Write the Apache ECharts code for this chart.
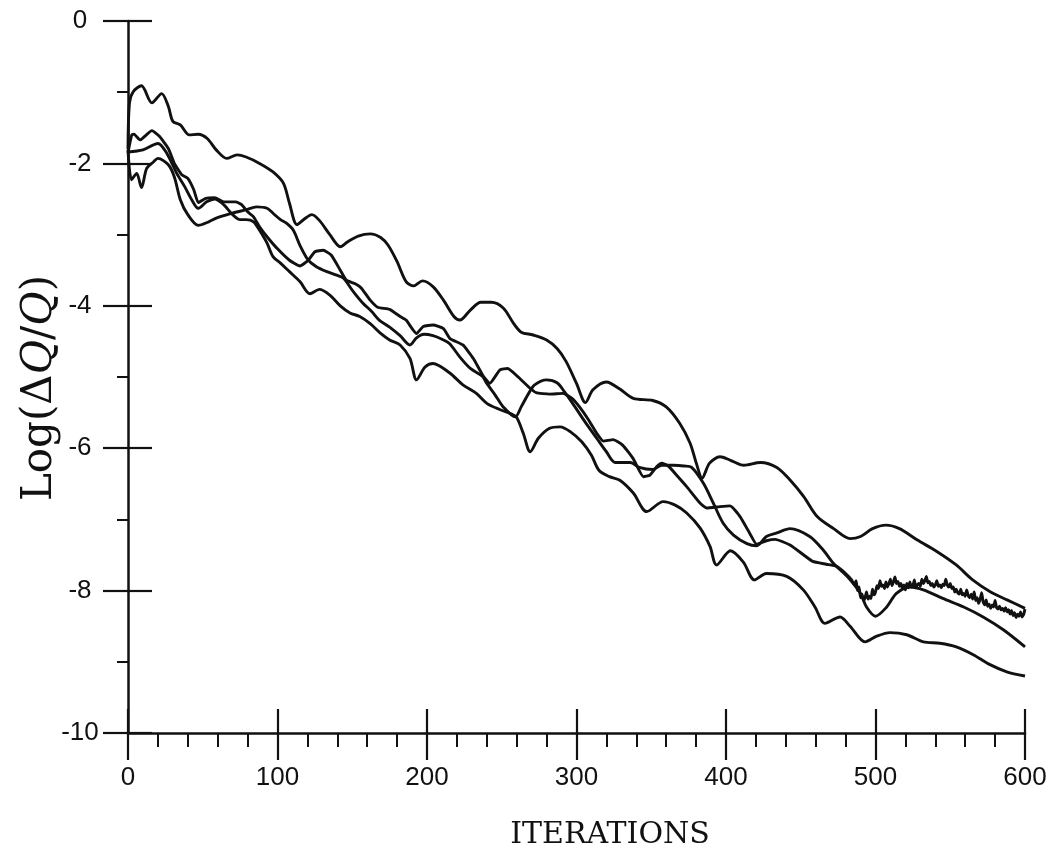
<!DOCTYPE html>
<html>
<head>
<meta charset="utf-8">
<title>Log(dQ/Q) vs iterations</title>
<script src="https://cdn.jsdelivr.net/npm/echarts@6/dist/echarts.min.js"></script>
<style>
  html, body { margin: 0; padding: 0; background: #fff; }
  #chart { width: 1056px; height: 858px; }
</style>
</head>
<body>
<div id="chart"></div>
<script>
// Axis ranges / ticks
const xTicks = [0, 100, 200, 300, 400, 500, 600];
const yTicks = [-10, -8, -6, -4, -2, 0];

// Four convergence histories, [iteration, log(dQ/Q)]
const curveA = [[0,-1.8],[1,-1.15],[3.6,-0.99],[9,-0.91],[16,-1.15],[22.5,-1.02],[27,-1.2],[30,-1.41],[35,-1.46],[41,-1.6],[47,-1.59],[53,-1.65],[59,-1.81],[66,-1.93],[73,-1.88],[79,-1.91],[88,-2.0],[97,-2.12],[104,-2.28],[108,-2.56],[113,-2.86],[118,-2.78],[123,-2.72],[128,-2.8],[135,-3.0],[142,-3.17],[147,-3.1],[154,-3.02],[162,-2.99],[169,-3.04],[174,-3.15],[180,-3.38],[186,-3.66],[191,-3.72],[197,-3.65],[204,-3.73],[211,-3.92],[218,-4.15],[222,-4.2],[229,-4.06],[236,-3.95],[243,-3.95],[251,-4.03],[258,-4.25],[263,-4.37],[271,-4.41],[280,-4.48],[287,-4.6],[293,-4.78],[300,-5.09],[306,-5.36],[311,-5.18],[320,-5.07],[329,-5.17],[338,-5.3],[351,-5.33],[360,-5.42],[369,-5.65],[376,-5.93],[380,-6.2],[384,-6.42],[389,-6.21],[396,-6.12],[403,-6.17],[412,-6.24],[423,-6.2],[434,-6.27],[443,-6.45],[452,-6.68],[461,-6.96],[472,-7.13],[483,-7.27],[490,-7.24],[498,-7.13],[507,-7.08],[516,-7.13],[528,-7.29],[541,-7.45],[554,-7.64],[565,-7.85],[577,-8.02],[588,-8.13],[600,-8.25]];

const curveBSmooth = [[0,-1.85],[2.5,-1.6],[4,-1.59],[8,-1.67],[16,-1.54],[21,-1.62],[27,-1.79],[31,-2.0],[36,-2.16],[40,-2.21],[44,-2.37],[47,-2.55],[52,-2.49],[58,-2.48],[64,-2.54],[72,-2.54],[76,-2.58],[80,-2.68],[84,-2.75],[88,-2.89],[93,-3.03],[100,-3.2],[108,-3.36],[115,-3.44],[120.6,-3.36],[125,-3.24],[130.6,-3.22],[136,-3.29],[142,-3.5],[146,-3.64],[152,-3.69],[156,-3.75],[162,-3.92],[167,-4.02],[175,-4.05],[182,-4.15],[186,-4.2],[193,-4.39],[197.5,-4.29],[204,-4.27],[211,-4.32],[215.4,-4.46],[224,-4.55],[231,-4.74],[237.7,-4.99],[242,-5.09],[248.8,-4.9],[254,-4.88],[261,-5.0],[268,-5.14],[273,-5.22],[282,-5.24],[291,-5.23],[297,-5.3],[302,-5.42],[308,-5.6],[313.5,-5.79],[318,-5.9],[324.6,-5.88],[331,-5.96],[338,-6.15],[344.7,-6.4],[349,-6.38],[353.6,-6.26],[357,-6.21],[361.4,-6.25],[367,-6.38],[373.7,-6.54],[382.6,-6.77],[387,-6.84],[396,-6.82],[402.7,-6.81],[409.4,-6.96],[416,-7.2],[420.5,-7.35],[427,-7.3],[433,-7.28],[442.8,-7.36],[452,-7.5],[458,-7.59],[467,-7.63],[474,-7.66],[480,-7.76],[484,-7.85]];

// the jagged tail of the same run, one value per iteration from 486
const curveBTailStart = 486;
const curveBTail = [-7.92,-7.86,-8.0,-7.95,-8.1,-8.05,-8.14,-8.1,-8.02,-8.12,-8.08,-8.11,-7.98,-8.06,-8.02,-7.93,-7.97,-7.86,-7.94,-7.92,-7.97,-7.88,-7.95,-7.9,-7.84,-7.93,-7.88,-7.81,-7.9,-7.87,-7.94,-7.9,-7.97,-7.92,-7.99,-7.9,-7.96,-7.88,-7.95,-7.93,-7.85,-7.96,-7.92,-7.9,-7.94,-7.84,-7.9,-7.86,-7.8,-7.89,-7.87,-7.93,-7.9,-7.95,-7.92,-7.86,-7.94,-7.92,-7.96,-7.91,-7.93,-7.84,-7.92,-7.95,-7.9,-7.97,-7.95,-8.02,-7.98,-8.03,-8.05,-7.98,-8.06,-8.04,-8.08,-7.99,-8.07,-8.1,-8.05,-8.12,-8.02,-8.14,-8.1,-8.18,-8.12,-8.03,-8.16,-8.2,-8.13,-8.22,-8.19,-8.25,-8.2,-8.23,-8.14,-8.24,-8.26,-8.22,-8.27,-8.25,-8.29,-8.24,-8.3,-8.27,-8.33,-8.28,-8.35,-8.31,-8.38,-8.33,-8.36,-8.3,-8.37,-8.34,-8.26];

const curveC = [[0,-1.81],[2.4,-2.23],[5.8,-2.14],[9,-2.34],[12.5,-2.07],[17,-1.98],[20,-1.93],[27,-2.02],[31,-2.19],[35,-2.51],[40,-2.72],[47,-2.87],[54,-2.82],[59,-2.77],[68,-2.71],[79,-2.65],[86,-2.61],[93,-2.63],[97,-2.7],[102,-2.79],[106,-2.84],[110.6,-2.94],[115,-3.15],[120.6,-3.36],[126,-3.45],[133,-3.52],[139.6,-3.57],[144,-3.61],[150.7,-3.8],[157,-3.96],[163,-4.08],[168,-4.2],[175,-4.3],[182,-4.42],[188.6,-4.55],[193,-4.45],[198,-4.4],[204,-4.42],[210,-4.47],[215,-4.53],[222,-4.72],[229,-4.88],[237,-4.99],[240,-5.09],[245.5,-5.25],[251,-5.42],[259,-5.56],[263,-5.42],[268,-5.23],[272,-5.11],[280,-5.04],[287,-5.08],[292,-5.21],[299,-5.42],[305.7,-5.63],[313.5,-5.86],[320,-6.05],[326,-6.2],[336,-6.2],[342,-6.27],[351,-6.3],[357,-6.24],[365,-6.24],[372,-6.25],[377,-6.27],[384.8,-6.49],[391.5,-6.77],[398,-7.05],[405,-7.22],[414,-7.34],[420.5,-7.37],[427,-7.24],[434,-7.19],[442.8,-7.13],[456,-7.24],[465,-7.43],[472,-7.62],[481,-7.8],[490,-8.04],[494,-8.23],[500,-8.36],[507.5,-8.23],[514,-8.04],[523,-7.95],[532,-7.99],[545,-8.11],[559,-8.23],[572,-8.37],[585.5,-8.55],[600,-8.79]];

const curveD = [[0,-1.84],[10,-1.81],[20,-1.72],[26,-1.86],[32.6,-2.14],[38,-2.33],[42.6,-2.51],[47,-2.63],[52.6,-2.54],[58,-2.5],[64,-2.58],[70,-2.72],[75,-2.79],[79,-2.79],[84,-2.82],[88,-2.94],[93,-3.12],[97,-3.31],[102,-3.4],[108,-3.52],[115,-3.66],[121.7,-3.83],[128,-3.77],[135,-3.85],[142,-4.0],[148.5,-4.1],[155,-4.15],[162,-4.25],[168.6,-4.38],[175,-4.48],[182,-4.55],[188.6,-4.74],[193,-5.04],[198.7,-4.86],[204,-4.81],[215,-4.94],[224,-5.11],[233,-5.23],[240,-5.37],[249,-5.46],[256.6,-5.52],[260,-5.57],[264.4,-5.79],[269,-6.05],[274.5,-5.86],[282,-5.72],[289,-5.7],[296,-5.77],[303.5,-5.91],[310,-6.1],[315,-6.31],[322,-6.4],[329,-6.45],[338,-6.63],[347,-6.89],[358,-6.75],[366,-6.8],[373.7,-6.91],[382.6,-7.12],[389.3,-7.38],[393.7,-7.64],[403,-7.44],[411.6,-7.6],[419,-7.85],[427,-7.76],[440.6,-7.8],[451.7,-7.99],[459.5,-8.23],[466.2,-8.46],[476.3,-8.37],[483,-8.5],[493,-8.72],[500.8,-8.64],[509.7,-8.59],[520.9,-8.62],[532,-8.72],[543,-8.74],[554,-8.79],[565.4,-8.9],[576.6,-9.04],[587.8,-9.14],[600,-9.2]];

const curveB = curveBSmooth.concat(curveBTail.map((v, i) => [curveBTailStart + i, v]));

const INK = '#111';
const tickFont = { color: INK, fontFamily: '"Liberation Sans", Arial, sans-serif', fontSize: 26 };

function lineSeries(data, smooth) {
  return {
    type: 'line', data: data, showSymbol: false, symbol: 'none',
    smooth: smooth, lineStyle: { color: INK, width: 2.9 },
    xAxisIndex: 0, yAxisIndex: 0, silent: true
  };
}

const chart = echarts.init(document.getElementById('chart'), null, { renderer: 'canvas' });

chart.setOption({
  animation: false,
  backgroundColor: '#fff',
  grid: { left: 128, right: 31, top: 21, bottom: 125 },
  xAxis: [
    {
      type: 'value', min: xTicks[0], max: xTicks[xTicks.length - 1], interval: 100,
      position: 'bottom',
      axisLine: { onZero: false, lineStyle: { color: INK, width: 2.5 } },
      axisTick: { length: 27, lineStyle: { color: INK, width: 2.2 } },
      minorTick: { show: true, splitNumber: 5, length: 14, lineStyle: { color: INK, width: 2 } },
      axisLabel: Object.assign({ margin: 32 }, tickFont),
      splitLine: { show: false }
    },
    {
      // upper half of the crossing major ticks
      type: 'value', min: xTicks[0], max: xTicks[xTicks.length - 1], interval: 100,
      position: 'bottom',
      axisLine: { show: false, onZero: false },
      axisTick: { inside: true, length: 24, lineStyle: { color: INK, width: 2.2 } },
      axisLabel: { show: false },
      splitLine: { show: false }
    }
  ],
  yAxis: [
    {
      type: 'value', min: yTicks[0], max: yTicks[yTicks.length - 1], interval: 2,
      position: 'left',
      axisLine: { onZero: false, lineStyle: { color: INK, width: 2.5 } },
      axisTick: { length: 25, lineStyle: { color: INK, width: 2.2 } },
      minorTick: { show: true, splitNumber: 2, length: 11, lineStyle: { color: INK, width: 2 } },
      axisLabel: Object.assign({ margin: 48, align: 'center' }, tickFont),
      splitLine: { show: false }
    },
    {
      type: 'value', min: yTicks[0], max: yTicks[yTicks.length - 1], interval: 2,
      position: 'left',
      axisLine: { show: false, onZero: false },
      axisTick: { inside: true, length: 24, lineStyle: { color: INK, width: 2.2 } },
      axisLabel: { show: false },
      splitLine: { show: false }
    }
  ],
  graphic: [
    {
      type: 'text', x: 40, y: 388, rotation: Math.PI / 2,
      style: {
        text: '{n|Log(Δ}{i|Q}{n|/}{i|Q}{n|)}',
        align: 'center', verticalAlign: 'middle',
        fill: INK,
        rich: {
          n: { fontFamily: '"DejaVu Serif", serif', fontSize: 42, fill: INK },
          i: { fontFamily: '"DejaVu Serif", serif', fontSize: 42, fontStyle: 'italic', fill: INK }
        }
      }
    },
    {
      type: 'text', x: 610, y: 835,
      style: {
        text: 'ITERATIONS', align: 'center', verticalAlign: 'middle',
        fontFamily: '"DejaVu Serif", serif', fontSize: 30, fill: INK
      }
    }
  ],
  series: [
    lineSeries(curveA, 0.3),
    lineSeries(curveB, 0.15),
    lineSeries(curveC, 0.3),
    lineSeries(curveD, 0.3)
  ]
});
</script>
</body>
</html>
